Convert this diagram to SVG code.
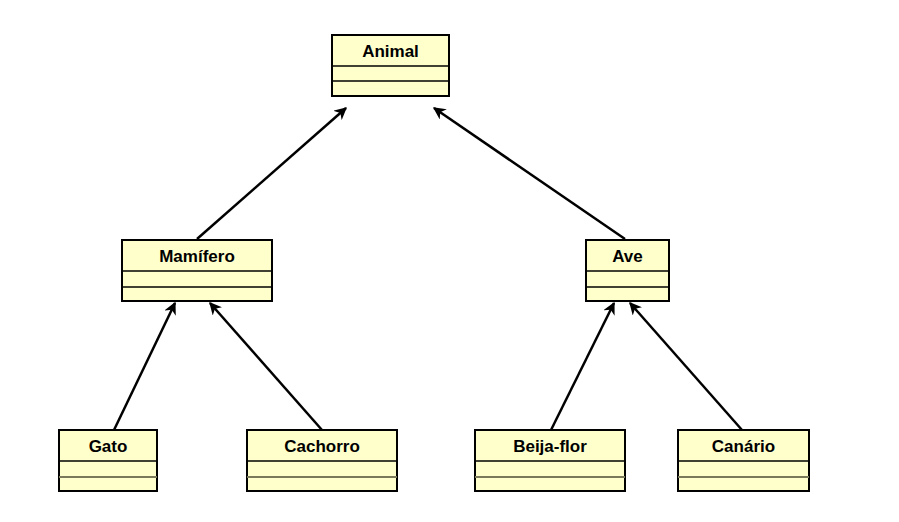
<svg xmlns="http://www.w3.org/2000/svg" width="899" height="522" viewBox="0 0 899 522">
<style>
.box{fill:#FFFFCC;stroke:#000;stroke-width:2}
.sep{stroke:#000;stroke-width:1.5}
.sep2{stroke:#7A7A5A;stroke-width:2}
.lbl{font-family:"Liberation Sans",Arial,sans-serif;font-weight:bold;font-size:17px;fill:#000;text-anchor:middle}
.edge{stroke:#000;stroke-width:2.5;fill:none;marker-end:url(#ah)}
</style>
<defs>
<marker id="ah" viewBox="0 0 10 10" refX="9" refY="5" markerWidth="5" markerHeight="5" orient="auto" markerUnits="strokeWidth">
<path d="M0,0 L10,5 L0,10 L3,5 z" fill="#000"/>
</marker>
</defs>
<rect width="899" height="522" fill="#fff"/>
<g id="connectors">
<line class="edge" x1="197" y1="239" x2="346" y2="108"/>
<line class="edge" x1="625" y1="239" x2="434" y2="108"/>
<line class="edge" x1="114" y1="430" x2="175" y2="303"/>
<line class="edge" x1="322" y1="430" x2="210" y2="303"/>
<line class="edge" x1="551" y1="430" x2="614" y2="303"/>
<line class="edge" x1="742" y1="430" x2="630" y2="303"/>
</g>
<g id="animal">
<rect class="box" x="332" y="35" width="117" height="61"/>
<line class="sep" x1="332" y1="66" x2="449" y2="66"/>
<line class="sep" x1="332" y1="81" x2="449" y2="81"/>
<text class="lbl" x="390.5" y="57">Animal</text>
</g>
<g id="mamifero">
<rect class="box" x="122" y="240" width="150" height="61"/>
<line class="sep" x1="122" y1="271" x2="272" y2="271"/>
<line class="sep" x1="122" y1="287" x2="272" y2="287"/>
<text class="lbl" x="197" y="262">Mamífero</text>
</g>
<g id="ave">
<rect class="box" x="586" y="240" width="83" height="61"/>
<line class="sep" x1="586" y1="271" x2="669" y2="271"/>
<line class="sep" x1="586" y1="287" x2="669" y2="287"/>
<text class="lbl" x="627.5" y="262">Ave</text>
</g>
<g id="gato">
<rect class="box" x="59" y="430" width="98" height="61"/>
<line class="sep" x1="59" y1="461" x2="157" y2="461"/>
<line class="sep2" x1="59" y1="477" x2="157" y2="477"/>
<text class="lbl" x="108" y="452">Gato</text>
</g>
<g id="cachorro">
<rect class="box" x="247" y="430" width="150" height="61"/>
<line class="sep" x1="247" y1="461" x2="397" y2="461"/>
<line class="sep2" x1="247" y1="477" x2="397" y2="477"/>
<text class="lbl" x="322" y="452">Cachorro</text>
</g>
<g id="beija-flor">
<rect class="box" x="475" y="430" width="150" height="61"/>
<line class="sep" x1="475" y1="461" x2="625" y2="461"/>
<line class="sep2" x1="475" y1="477" x2="625" y2="477"/>
<text class="lbl" x="550" y="452">Beija-flor</text>
</g>
<g id="canario">
<rect class="box" x="678" y="430" width="131" height="61"/>
<line class="sep" x1="678" y1="461" x2="809" y2="461"/>
<line class="sep2" x1="678" y1="477" x2="809" y2="477"/>
<text class="lbl" x="743.5" y="452">Canário</text>
</g>
</svg>
